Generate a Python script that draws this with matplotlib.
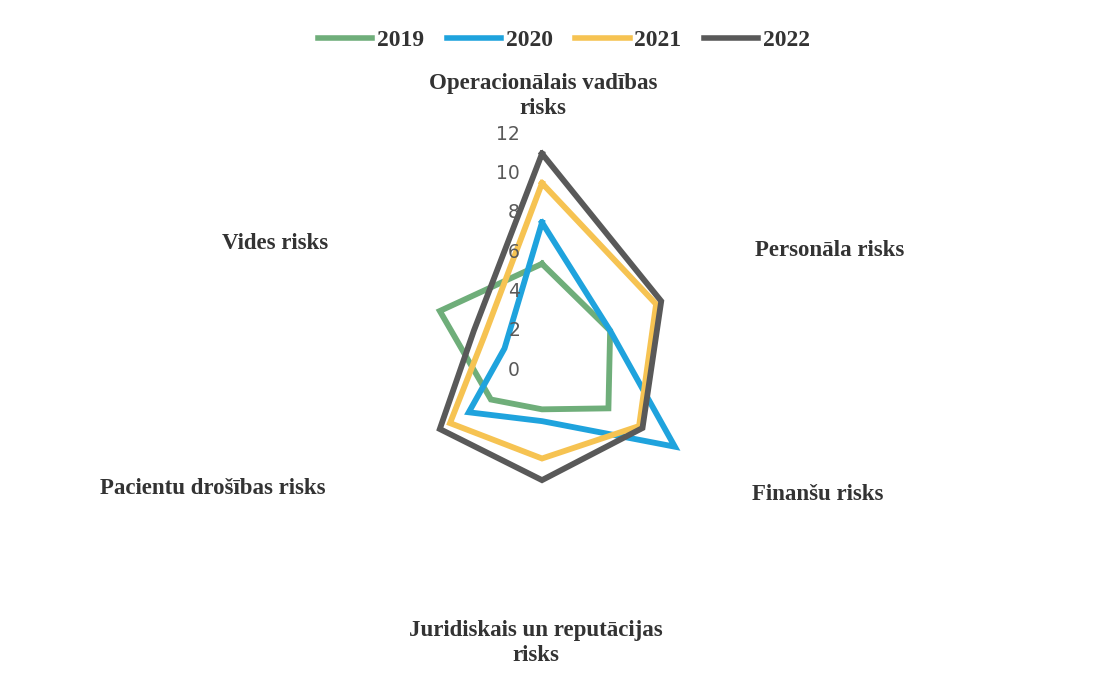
import numpy as np
import matplotlib
matplotlib.use("Agg")
import matplotlib.pyplot as plt

categories = ["Operacionālais vadības\nrisks", "Personāla risks", "Finanšu risks",
              "Juridiskais un reputācijas\nrisks", "Pacientu drošības risks", "Vides risks"]
years = ["2019", "2020", "2021", "2022"]
v2019 = [5.4, 4.0, 3.9, 2.0, 3.0, 6.0]
v2020 = [7.5, 4.0, 7.8, 2.6, 4.3, 2.2]
v2021 = [9.5, 6.7, 5.7, 4.5, 5.4, 3.4]
v2022 = [11.0, 7.0, 5.9, 5.6, 6.0, 4.0]
r_ticks = [0, 2, 4, 6, 8, 10, 12]

series = [v2019, v2020, v2021, v2022]
colors = ["#6FAE7A", "#1FA3DD", "#F6C352", "#595959"]

W, H = 1093, 694
fig = plt.figure(figsize=(W / 100, H / 100), dpi=100)
cx, cy, R = 542, 370, 236
ax = fig.add_axes([(cx - R) / W, (H - cy - R) / H, 2 * R / W, 2 * R / H], projection="polar")
ax.set_theta_offset(np.pi / 2)
ax.set_theta_direction(-1)
ax.set_ylim(0, 12)
ax.grid(False)
ax.spines["polar"].set_visible(False)
ax.set_xticks([])
ax.set_yticks([])
ax.patch.set_alpha(0)

n = len(categories)
theta = np.linspace(0, 2 * np.pi, n, endpoint=False)
th_closed = np.append(theta, theta[0])

for vals, col, yr in zip(series, colors, years):
    ax.plot(th_closed, np.append(vals, vals[0]), color=col, lw=4.2,
            solid_joinstyle="miter", label=yr, clip_on=False)

for t in r_ticks:
    ax.annotate(str(t), xy=(0, t), xytext=(-22, 0), textcoords="offset pixels",
                ha="right", va="center", fontsize=13.5, color="#595959",
                family="DejaVu Sans", annotation_clip=False)

serif = "Liberation Serif"
tc = "#333333"
label_pos = [
    (543, 96, "center"),
    (755, 250, "left"),
    (752, 494, "left"),
    (536, 643, "center"),
    (326, 488, "right"),
    (328, 244, "right"),
]
for (x, y, ha), txt in zip(label_pos, categories):
    fig.text(x / W, 1 - y / H, txt, ha=ha, va="center", fontsize=16.5,
             fontweight="bold", family=serif, color=tc, linespacing=1.25)

leg = fig.legend(loc="center", bbox_to_anchor=(564 / W, 1 - 40 / H), ncol=4,
                 frameon=False, handlelength=2.3, handletextpad=0.2,
                 columnspacing=0.95, prop={"family": serif, "weight": "bold", "size": 17})
for t in leg.get_texts():
    t.set_color(tc)
for h in leg.legend_handles:
    h.set_linewidth(4)

fig.savefig("out.png", dpi=100, facecolor="white")
